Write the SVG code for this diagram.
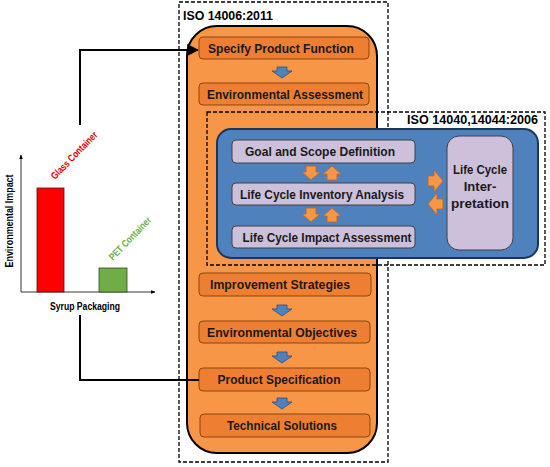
<svg xmlns="http://www.w3.org/2000/svg" xmlns:xlink="http://www.w3.org/1999/xlink" width="550" height="467" viewBox="0 0 550 467">
<style>
text{font-family:"Liberation Sans","DejaVu Sans",sans-serif;font-weight:bold;}
.dash{fill:none;stroke:#000;stroke-width:1.3;stroke-dasharray:4,2;}
.obox{fill:#EE7E32;stroke:#8B4513;stroke-width:1;}
.lbox{fill:#CCC0DA;stroke:#404040;stroke-width:1;}
.t{font-size:13px;fill:#1a1a1a;text-anchor:middle;}
.barr{fill:#4F81BD;stroke:#2F4F7F;stroke-width:0.8;}
.oarr{fill:#F79646;stroke:#B9652A;stroke-width:0.8;}
.conn{fill:none;stroke:#000;stroke-width:2;}
.ax{fill:none;stroke:#000;stroke-width:0.8;}
</style>
<defs>
<path id="bdown" d="M-5,0 H5 V4 H10 L0,11 L-10,4 H-5 Z"/>
<path id="odown" d="M-5,0 H5 V6 H9 L0,14 L-9,6 H-5 Z"/>
<path id="oup" d="M-5,14 H5 V8 H9 L0,0 L-9,8 H-5 Z"/>
<path id="oright" d="M0,-5 H6 V-11 L15,0 L6,11 V5 H0 Z"/>
<path id="oleft" d="M15,-5 H9 V-11 L0,0 L9,11 V5 H15 Z"/>
<marker id="ah" viewBox="0 0 10 10" refX="9" refY="5" markerWidth="6" markerHeight="6" orient="auto" markerUnits="strokeWidth"><path d="M0,0 L10,5 L0,10 Z" fill="#000"/></marker>
<marker id="sah" viewBox="0 0 10 10" refX="9" refY="5" markerWidth="6" markerHeight="6" orient="auto" markerUnits="strokeWidth"><path d="M0,1 L10,5 L0,9 Z" fill="#000"/></marker>
</defs>

<g id="iso14006">
<rect class="dash" x="179" y="2" width="209" height="460"/>
<text x="183" y="20" font-size="13" textLength="90" lengthAdjust="spacingAndGlyphs">ISO 14006:2011</text>
<rect x="187" y="26" width="190" height="427" rx="30" fill="#F79646" stroke="#000" stroke-width="2"/>
</g>

<g id="specify"><rect class="obox" x="199" y="37" width="170" height="22" rx="4"/><text class="t" x="281" y="53" textLength="146" lengthAdjust="spacingAndGlyphs">Specify Product Function</text></g>
<g id="envassess"><rect class="obox" x="199" y="83" width="170" height="22" rx="4"/><text class="t" x="285" y="99" textLength="156" lengthAdjust="spacingAndGlyphs">Environmental Assessment</text></g>

<g id="iso14040">
<rect class="dash" x="207" y="112" width="338" height="153"/>
<text x="538" y="124" font-size="13" text-anchor="end" textLength="131" lengthAdjust="spacingAndGlyphs">ISO 14040,14044:2006</text>
<rect x="217" y="129" width="321" height="129" rx="14" fill="#4F81BD" stroke="#17375E" stroke-width="2"/>
</g>
<g id="goal"><rect class="lbox" x="232" y="140" width="183" height="23" rx="4"/><text class="t" x="320" y="156" textLength="150" lengthAdjust="spacingAndGlyphs">Goal and Scope Definition</text></g>
<g id="inventory"><rect class="lbox" x="232" y="183" width="183" height="22" rx="4"/><text class="t" x="322" y="199" textLength="164" lengthAdjust="spacingAndGlyphs">Life Cycle Inventory Analysis</text></g>
<g id="impact"><rect class="lbox" x="232" y="226" width="183" height="22" rx="4"/><text class="t" x="327" y="242" textLength="169" lengthAdjust="spacingAndGlyphs">Life Cycle Impact Assessment</text></g>
<g id="interpretation"><rect class="lbox" x="447" y="136" width="66" height="114" rx="12"/>
<text class="t" x="480" y="174" textLength="54" lengthAdjust="spacingAndGlyphs">Life Cycle</text>
<text class="t" x="480" y="191">Inter-</text>
<text class="t" x="480" y="208" textLength="58" lengthAdjust="spacingAndGlyphs">pretation</text></g>

<g id="improve"><rect class="obox" x="199" y="273" width="172" height="23" rx="4"/><text class="t" x="280" y="289" textLength="140" lengthAdjust="spacingAndGlyphs">Improvement Strategies</text></g>
<g id="objectives"><rect class="obox" x="199" y="321" width="171" height="22" rx="4"/><text class="t" x="282" y="337" textLength="150" lengthAdjust="spacingAndGlyphs">Environmental Objectives</text></g>
<g id="prodspec"><rect class="obox" x="199" y="368" width="171" height="23" rx="4"/><text class="t" x="279" y="384" textLength="123" lengthAdjust="spacingAndGlyphs">Product Specification</text></g>
<g id="technical"><rect class="obox" x="200" y="414" width="170" height="23" rx="4"/><text class="t" x="282" y="430" textLength="110" lengthAdjust="spacingAndGlyphs">Technical Solutions</text></g>

<g id="chart">
<path class="ax" d="M21,292 V155" marker-end="url(#sah)"/>
<path class="ax" d="M21,292 H155" marker-end="url(#sah)"/>
<rect x="37" y="188" width="27" height="104" fill="#FF0000" stroke="#5a1010" stroke-width="0.8"/>
<rect x="99" y="268" width="28" height="24" fill="#70AD47" stroke="#2d4a1e" stroke-width="0.8"/>
<text transform="translate(55,180) rotate(-46)" font-size="10" fill="#E00000" textLength="62" lengthAdjust="spacingAndGlyphs">Glass Container</text>
<text transform="translate(113,261) rotate(-46)" font-size="10" fill="#70AD47" textLength="56" lengthAdjust="spacingAndGlyphs">PET Container</text>
<text transform="translate(13,221) rotate(-90)" font-size="10" fill="#000" text-anchor="middle" textLength="93" lengthAdjust="spacingAndGlyphs">Environmental Impact</text>
<text x="85" y="310" font-size="10" fill="#000" text-anchor="middle" textLength="70" lengthAdjust="spacingAndGlyphs">Syrup Packaging</text>
</g>

<g id="connectors">
<path class="conn" d="M80,125 V50 H198" marker-end="url(#ah)"/>
<path class="conn" d="M80,315 V380 H199"/>
<use href="#bdown" class="barr" x="282" y="67"/>
<use href="#bdown" class="barr" x="282" y="305"/>
<use href="#bdown" class="barr" x="282" y="352"/>
<use href="#bdown" class="barr" x="282" y="398"/>
<use href="#odown" class="oarr" x="311" y="166"/>
<use href="#oup" class="oarr" x="332" y="166"/>
<use href="#odown" class="oarr" x="311" y="208"/>
<use href="#oup" class="oarr" x="332" y="208"/>
<use href="#oright" class="oarr" x="428" y="181"/>
<use href="#oleft" class="oarr" x="428" y="204"/>
</g>
</svg>
